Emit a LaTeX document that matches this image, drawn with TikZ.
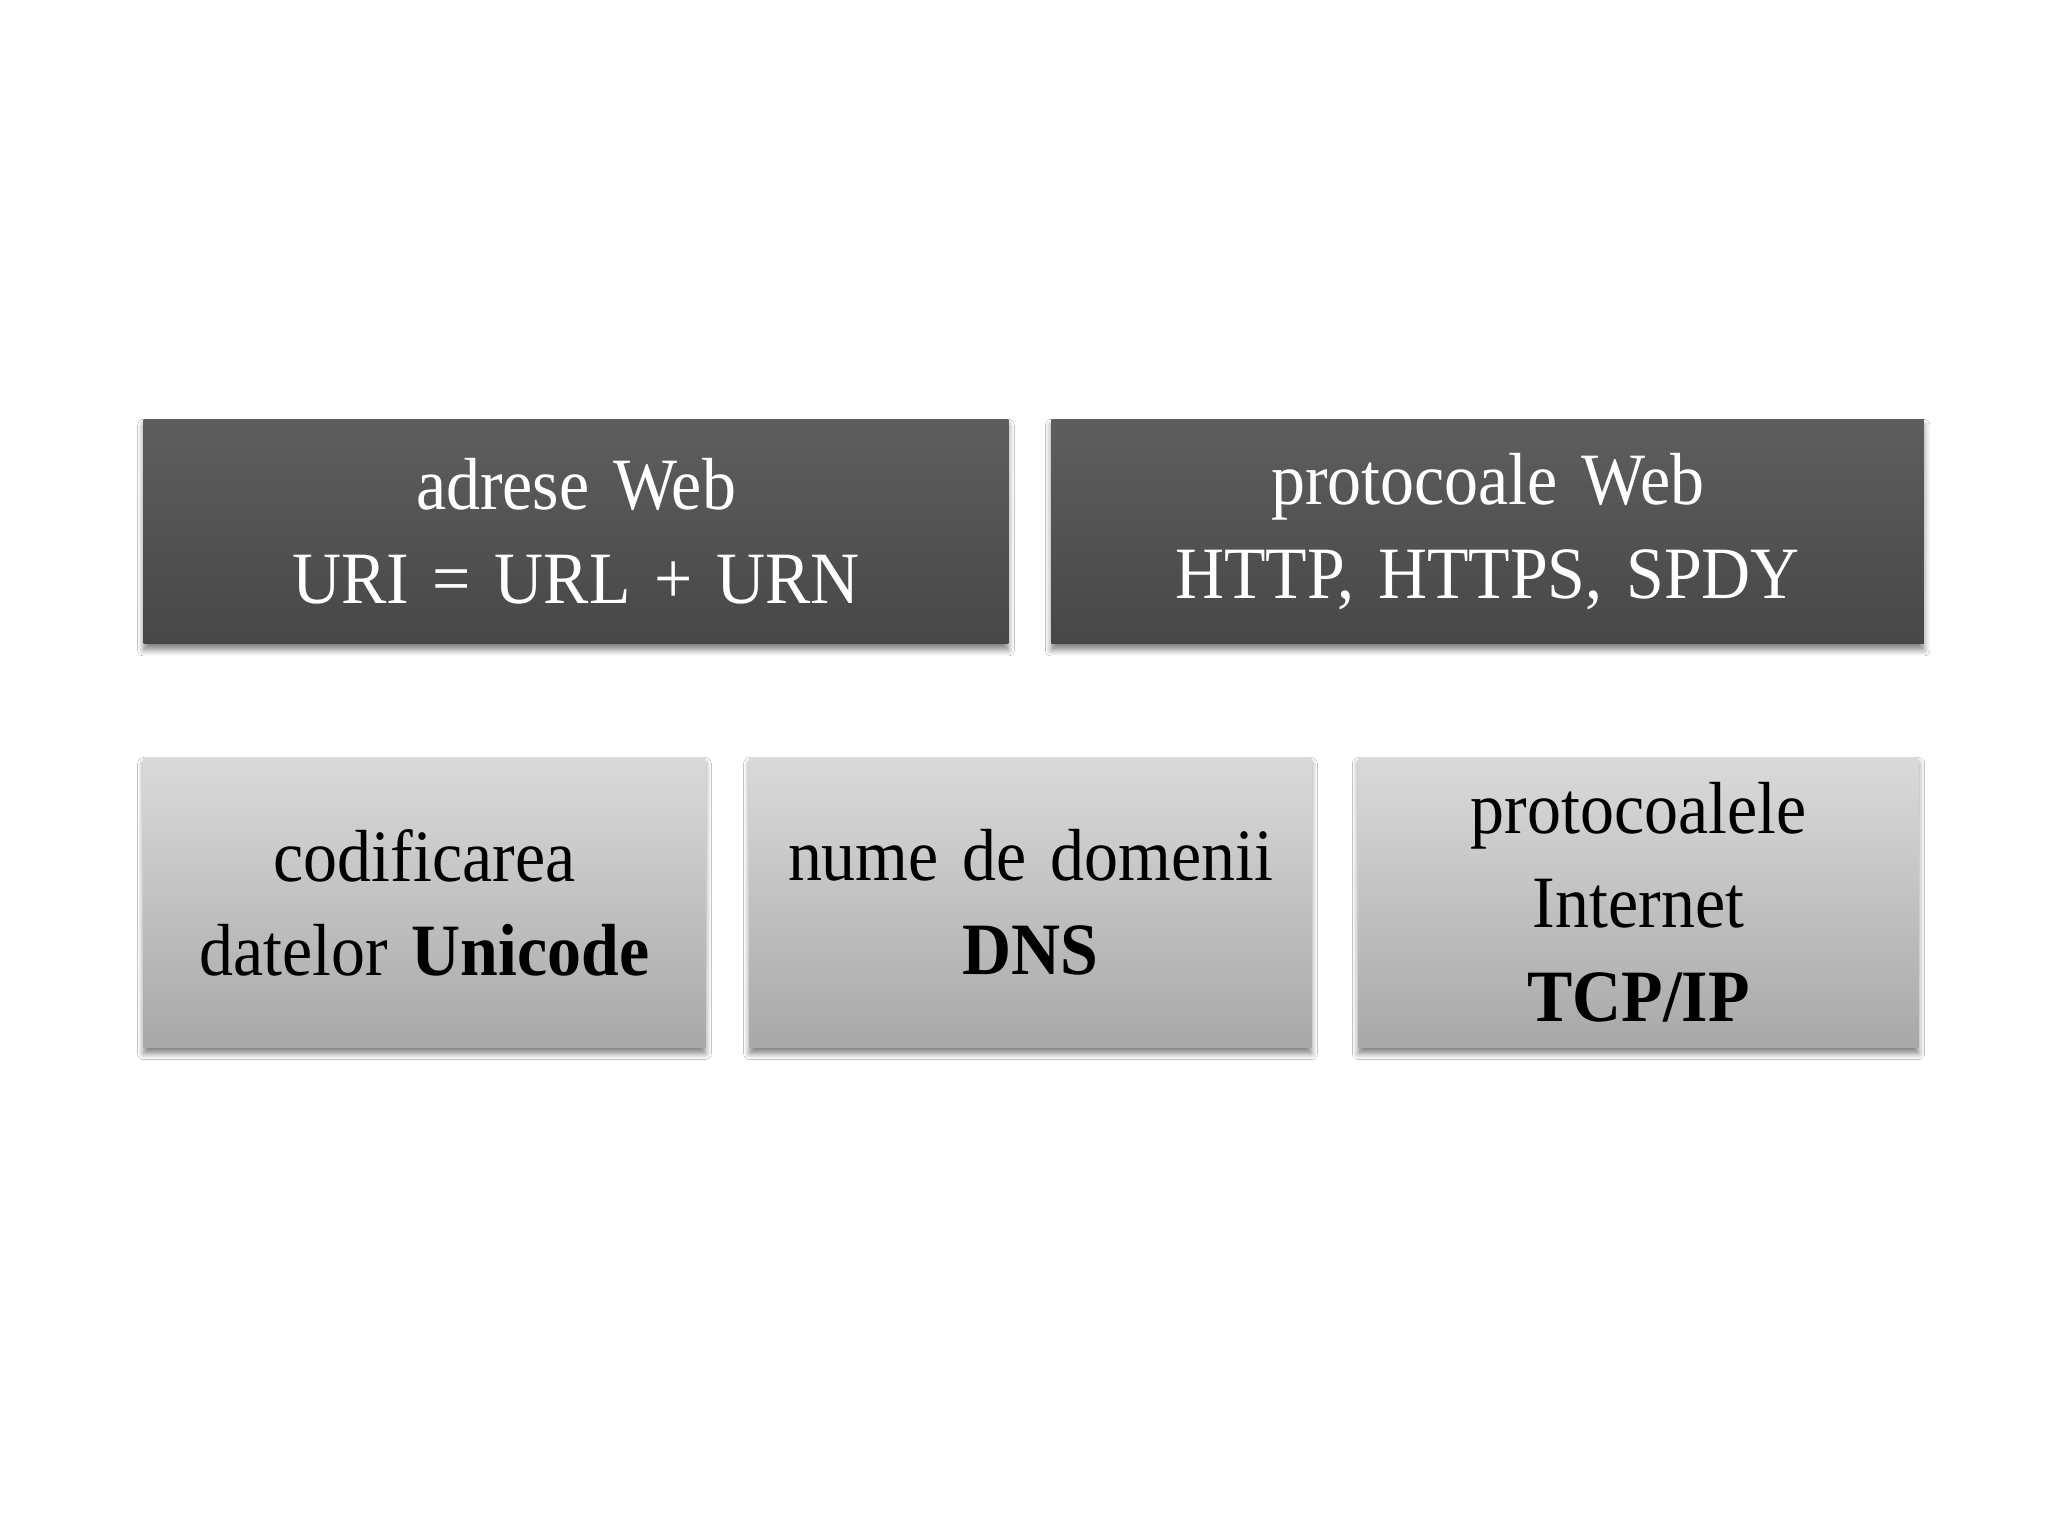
\documentclass[tikz,border=0pt]{standalone}
\usepackage{fontspec}
\setmainfont{Liberation Serif}[FakeStretch=0.92, WordSpace=1.4]
\usetikzlibrary{shadows.blur}
\definecolor{darktop}{HTML}{5E5E5E}
\definecolor{darkbot}{HTML}{474747}
\definecolor{lighttop}{HTML}{DADADA}
\definecolor{lightbot}{HTML}{A8A8A8}
\tikzset{
  box/.style={rectangle, inner sep=0pt, align=center,
    font=\fontsize{21}{26.7}\selectfont,
    blur shadow={shadow xshift=0pt, shadow yshift=-0.6mm, shadow blur steps=6, shadow opacity=50, shadow blur radius=0.6mm}},
  darkbox/.style={box, top color=darktop, bottom color=darkbot, text=white},
  lightbox/.style={box, top color=lighttop, bottom color=lightbot, text=black}
}
\begin{document}
\begin{tikzpicture}[x=0.1mm,y=-0.1mm]
\fill[white] (0,0) rectangle (2048,1536);
\useasboundingbox (0,0) rectangle (2048,1536);
\node[darkbox, minimum width=86.46mm, minimum height=22.46mm] (web) at (576,531.6)
  {adrese Web\\URI = URL + URN};
\node[darkbox, minimum width=87.25mm, minimum height=22.46mm] (proto) at (1487.6,531.6)
  {protocoale Web\\HTTP, HTTPS, SPDY};
\node[lightbox, minimum width=56.16mm, minimum height=29mm] (uni) at (424.5,902.5)
  {codificarea\\datelor \textbf{Unicode}};
\node[lightbox, minimum width=56.16mm, minimum height=29mm] (dns) at (1030.5,902.5)
  {nume de domenii\\\textbf{DNS}};
\node[lightbox, minimum width=56.02mm, minimum height=29mm] (tcp) at (1638.5,902.5)
  {protocoalele\\Internet\\\textbf{TCP/IP}};
\end{tikzpicture}
\end{document}
